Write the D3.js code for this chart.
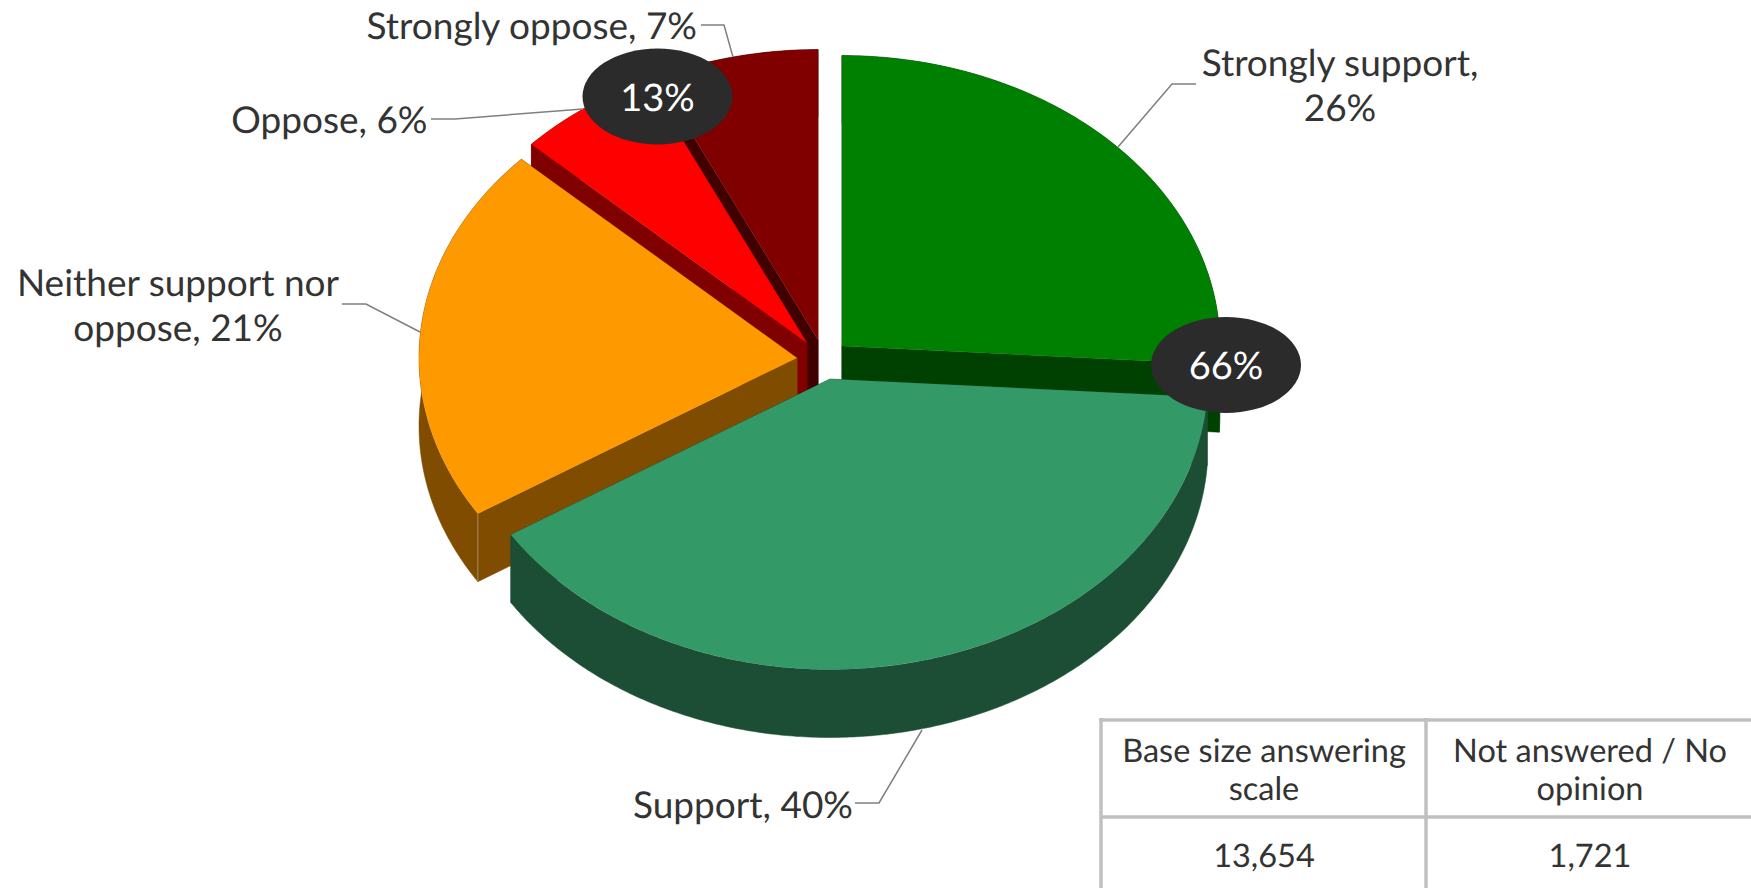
<!DOCTYPE html>
<html><head><meta charset="utf-8">
<style>html,body{margin:0;padding:0;background:#fff;overflow:hidden}svg{display:block}text{font-family:Lato,sans-serif;fill:#333;text-rendering:geometricPrecision}</style>
<script src="https://cdn.jsdelivr.net/npm/d3@7"></script>
</head><body><svg id="c" width="1751" height="888"></svg>
<script>
const categories = ["Strongly support","Support","Neither support nor oppose","Oppose","Strongly oppose"];
const values = [26,40,21,6,7];
const topColors = ["#008000","#339966","#ff9900","#ff0000","#800000"];
const sideColors = ["#004000","#1c4e35","#804d00","#800000","#400000"];
const apexX = [842,830,797,807,818];
const apexY = [346,379,358,343,340];
const drawOrder = [4,3,0,2,1];
const bubbleLabels = ["66%","13%"];
const bubbleX = [1226,657.5];
const bubbleY = [365,96.5];
const tableHead = [["Base size answering","scale"],["Not answered / No","opinion"]];
const tableVals = ["13,654","1,721"];
const labelLines = [["Strongly support,","26%"],["Support, 40%"],["Neither support nor","oppose, 21%"],["Oppose, 6%"],["Strongly oppose, 7%"]];
const labelX = [1340,853,178,427.5,697];
const labelY = [75.7,817.7,295.7,132.7,38.7];
const labelAnchor = ["middle","end","middle","end","end"];
const leaders = [
  [[1118,147],[1172,84],[1196,84]],
  [[855,803],[879,803],[922,730]],
  [[342,304],[366,304],[420,332]],
  [[431,119],[455,119],[583,109]],
  [[701,25],[724,25],[733,57]]
];
const RX=378, RY=290.5, DEPTH=68;
const svg=d3.select("#c");
const pie=d3.pie().sort(null)(values);
const arc=d3.arc().innerRadius(0).outerRadius(RX);
const line=d3.line();
const pt=(i,a,dz=0)=>[apexX[i]+RX*Math.sin(a),apexY[i]-RY*Math.cos(a)+dz];
drawOrder.forEach(i=>{
  const d=pie[i], g=svg.append("g");
  const n=Math.ceil((d.endAngle-d.startAngle)/0.01);
  const angs=d3.range(n+1).map(k=>d.startAngle+(d.endAngle-d.startAngle)*k/n);
  const outer=angs.map(a=>pt(i,a)).concat(angs.slice().reverse().map(a=>pt(i,a,DEPTH)));
  const ax=[apexX[i],apexY[i]], ab=[apexX[i],apexY[i]+DEPTH];
  const walls=[outer,[ax,pt(i,d.startAngle),pt(i,d.startAngle,DEPTH),ab],[ax,pt(i,d.endAngle),pt(i,d.endAngle,DEPTH),ab]];
  g.selectAll("path.w").data(walls).join("path").attr("class","w")
    .attr("d",p=>line(p)+"Z").attr("fill",sideColors[i]).attr("stroke",sideColors[i]).attr("stroke-width",0.5);
  g.append("path").attr("d",arc(d))
    .attr("transform",`translate(${apexX[i]},${apexY[i]}) scale(1,${RY/RX})`)
    .attr("fill",topColors[i]);
  if(i===2){
    g.append("path").attr("d",line([pt(i,d.startAngle),pt(i,d.startAngle,DEPTH)]))
      .attr("stroke","#a58a5c").attr("stroke-width",1).attr("fill","none");
  }
});
svg.selectAll("path.leader").data(leaders).join("path").attr("class","leader")
  .attr("d",p=>line(p)).attr("fill","none").attr("stroke","#7f7f7f").attr("stroke-width",1.5);
bubbleLabels.forEach((t,i)=>{
  svg.append("ellipse").attr("cx",bubbleX[i]).attr("cy",bubbleY[i]).attr("rx",75).attr("ry",48).attr("fill","#2b2b2b");
  svg.append("text").attr("x",bubbleX[i]).attr("y",bubbleY[i]+14).attr("text-anchor","middle").attr("font-size",38).style("fill","#fff").text(t);
});
labelLines.forEach((ls,i)=>{
  ls.forEach((t,j)=>{
    svg.append("text").attr("x",labelX[i]).attr("y",labelY[i]+j*45).attr("text-anchor",labelAnchor[i]).attr("font-size",37).text(t);
  });
});
const colX=[1264,1590];
const grid=[[1101,718,1101,888],[1426,718,1426,888],[1099,720,1751,720],[1101,817,1751,817]];
svg.selectAll("line.g").data(grid).join("line").attr("class","g")
  .attr("x1",d=>d[0]).attr("y1",d=>d[1]).attr("x2",d=>d[2]).attr("y2",d=>d[3])
  .attr("stroke","#c0c0c0").attr("stroke-width",3.5);
tableHead.forEach((ls,c)=>{
  ls.forEach((t,j)=>svg.append("text").attr("x",colX[c]).attr("y",762+j*38).attr("text-anchor","middle").attr("font-size",32.5).text(t));
  svg.append("text").attr("x",colX[c]).attr("y",867).attr("text-anchor","middle").attr("font-size",32.5).text(tableVals[c]);
});
</script></body></html>
